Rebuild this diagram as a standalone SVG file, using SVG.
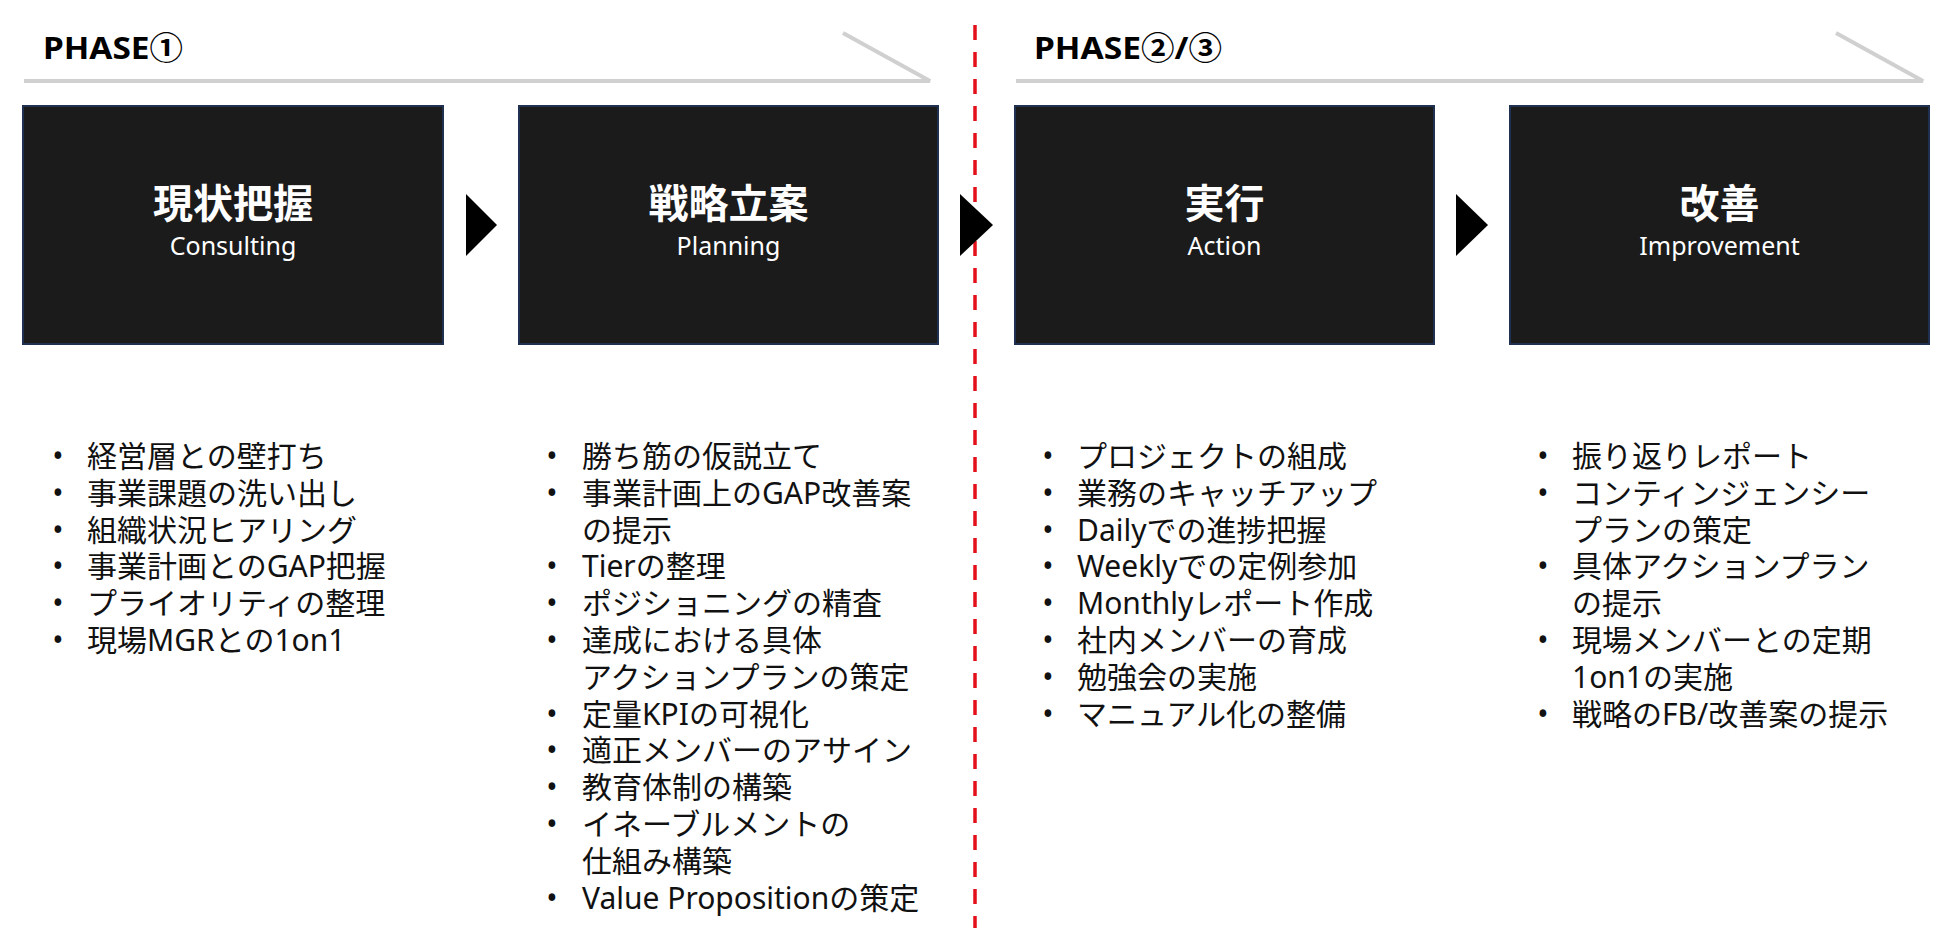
<svg xmlns="http://www.w3.org/2000/svg" width="1950" height="951" viewBox="0 0 1950 951">
<style>
text{font-family:"Noto Sans","Noto Sans CJK JP",sans-serif;}
.phase{font-size:31px;font-weight:bold;fill:#000;}
.box{fill:#1b1b1b;stroke:#1f3050;stroke-width:2;}
.jt{font-size:40px;font-weight:bold;fill:#fff;text-anchor:middle;}
.et{font-size:25px;fill:#fff;text-anchor:middle;}
.li{font-size:30px;fill:#111;}
.bu{font-size:30px;fill:#111;text-anchor:middle;}
.tl{fill:none;stroke:#d0d0d0;stroke-width:4;stroke-linecap:butt;stroke-linejoin:miter;}
.tri{fill:#000;}
</style>
<rect width="1950" height="951" fill="#fff"/>
<g id="timeline">
<path class="tl" d="M24 81 H930 L843 33"/>
<path class="tl" d="M1016 81 H1923 L1836 33"/>
<text class="phase" x="43" y="59" textLength="140" lengthAdjust="spacingAndGlyphs">PHASE①</text>
<text class="phase" x="1034" y="59" textLength="188" lengthAdjust="spacingAndGlyphs">PHASE②/③</text>
</g>
<line x1="975" y1="25" x2="975" y2="928" stroke="#e3101a" stroke-width="3.5" stroke-dasharray="15 12"/>
<g id="node-genjo">
<rect class="box" x="23" y="106" width="420" height="238"/>
<text class="jt" x="233" y="218">現状把握</text>
<text class="et" x="233" y="255">Consulting</text>
</g>
<g id="node-senryaku">
<rect class="box" x="519" y="106" width="419" height="238"/>
<text class="jt" x="728.5" y="218">戦略立案</text>
<text class="et" x="728.5" y="255">Planning</text>
</g>
<g id="node-jikko">
<rect class="box" x="1015" y="106" width="419" height="238"/>
<text class="jt" x="1224.5" y="218">実行</text>
<text class="et" x="1224.5" y="255">Action</text>
</g>
<g id="node-kaizen">
<rect class="box" x="1510" y="106" width="419" height="238"/>
<text class="jt" x="1719.5" y="218">改善</text>
<text class="et" x="1719.5" y="255">Improvement</text>
</g>
<g id="connectors">
<polygon class="tri" points="466,194 497,225 466,256"/>
<polygon class="tri" points="960,194 993,225 960,256"/>
<polygon class="tri" points="1456,194 1488,225 1456,256"/>
</g>
<g id="list-genjo">
<text class="bu" x="58" y="467">•</text><text class="li" x="87" y="467">経営層との壁打ち</text>
<text class="bu" x="58" y="503.8">•</text><text class="li" x="87" y="503.8">事業課題の洗い出し</text>
<text class="bu" x="58" y="540.6">•</text><text class="li" x="87" y="540.6">組織状況ヒアリング</text>
<text class="bu" x="58" y="577.4">•</text><text class="li" x="87" y="577.4">事業計画とのGAP把握</text>
<text class="bu" x="58" y="614.2">•</text><text class="li" x="87" y="614.2">プライオリティの整理</text>
<text class="bu" x="58" y="651">•</text><text class="li" x="87" y="651">現場MGRとの1on1</text>
</g>
<g id="list-senryaku">
<text class="bu" x="552" y="467">•</text><text class="li" x="582" y="467">勝ち筋の仮説立て</text>
<text class="bu" x="552" y="503.8">•</text><text class="li" x="582" y="503.8">事業計画上のGAP改善案</text>
<text class="li" x="582" y="540.6">の提示</text>
<text class="bu" x="552" y="577.4">•</text><text class="li" x="582" y="577.4">Tierの整理</text>
<text class="bu" x="552" y="614.2">•</text><text class="li" x="582" y="614.2">ポジショニングの精査</text>
<text class="bu" x="552" y="651">•</text><text class="li" x="582" y="651">達成における具体</text>
<text class="li" x="582" y="687.8">アクションプランの策定</text>
<text class="bu" x="552" y="724.6">•</text><text class="li" x="582" y="724.6">定量KPIの可視化</text>
<text class="bu" x="552" y="761.4">•</text><text class="li" x="582" y="761.4">適正メンバーのアサイン</text>
<text class="bu" x="552" y="798.2">•</text><text class="li" x="582" y="798.2">教育体制の構築</text>
<text class="bu" x="552" y="835">•</text><text class="li" x="582" y="835">イネーブルメントの</text>
<text class="li" x="582" y="871.8">仕組み構築</text>
<text class="bu" x="552" y="908.6">•</text><text class="li" x="582" y="908.6">Value Propositionの策定</text>
</g>
<g id="list-jikko">
<text class="bu" x="1048" y="467">•</text><text class="li" x="1077" y="467">プロジェクトの組成</text>
<text class="bu" x="1048" y="503.8">•</text><text class="li" x="1077" y="503.8">業務のキャッチアップ</text>
<text class="bu" x="1048" y="540.6">•</text><text class="li" x="1077" y="540.6">Dailyでの進捗把握</text>
<text class="bu" x="1048" y="577.4">•</text><text class="li" x="1077" y="577.4">Weeklyでの定例参加</text>
<text class="bu" x="1048" y="614.2">•</text><text class="li" x="1077" y="614.2">Monthlyレポート作成</text>
<text class="bu" x="1048" y="651">•</text><text class="li" x="1077" y="651">社内メンバーの育成</text>
<text class="bu" x="1048" y="687.8">•</text><text class="li" x="1077" y="687.8">勉強会の実施</text>
<text class="bu" x="1048" y="724.6">•</text><text class="li" x="1077" y="724.6">マニュアル化の整備</text>
</g>
<g id="list-kaizen">
<text class="bu" x="1543" y="467">•</text><text class="li" x="1572" y="467">振り返りレポート</text>
<text class="bu" x="1543" y="503.8">•</text><text class="li" x="1572" y="503.8">コンティンジェンシー</text>
<text class="li" x="1572" y="540.6">プランの策定</text>
<text class="bu" x="1543" y="577.4">•</text><text class="li" x="1572" y="577.4">具体アクションプラン</text>
<text class="li" x="1572" y="614.2">の提示</text>
<text class="bu" x="1543" y="651">•</text><text class="li" x="1572" y="651">現場メンバーとの定期</text>
<text class="li" x="1572" y="687.8">1on1の実施</text>
<text class="bu" x="1543" y="724.6">•</text><text class="li" x="1572" y="724.6">戦略のFB/改善案の提示</text>
</g>
</svg>
